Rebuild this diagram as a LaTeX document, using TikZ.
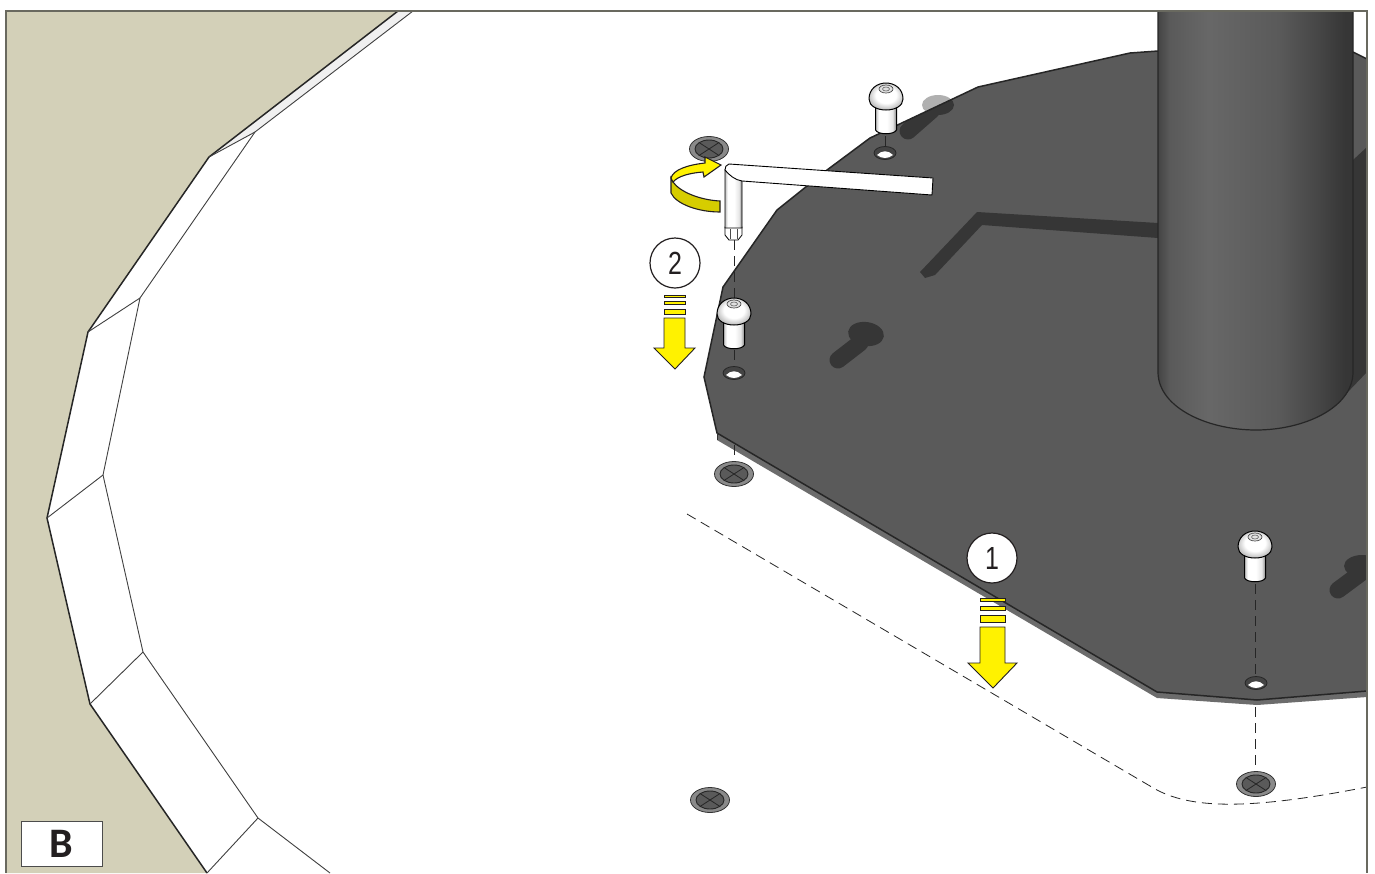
\documentclass[tikz,border=0pt]{standalone}
\usepackage{xcolor,tikz,fontspec}
\usetikzlibrary{arrows.meta,positioning,calc,shapes.geometric}
\newfontfamily\narrowfont[FakeStretch=0.78]{Liberation Sans}
\newfontfamily\heavyfont{Carlito}
\definecolor{sand}{RGB}{211,208,184}
\definecolor{plate}{RGB}{90,90,90}
\definecolor{plateside}{RGB}{108,108,108}
\definecolor{shadow}{RGB}{54,54,54}
\definecolor{halo}{RGB}{176,176,176}
\definecolor{strip}{RGB}{240,240,240}
\definecolor{frameline}{RGB}{105,105,95}
\definecolor{signal}{RGB}{255,242,0}
\definecolor{signaldark}{RGB}{214,205,0}
\definecolor{ring}{RGB}{138,138,138}
\definecolor{ink}{RGB}{35,31,32}
\pgfdeclarehorizontalshading{tube}{100bp}{color(0bp)=(shadow!60!plate); color(25bp)=(shadow!60!plate); color(28bp)=(plate); color(38bp)=(plate!92!white); color(56bp)=(plate); color(66bp)=(shadow!55!plate); color(73bp)=(shadow); color(100bp)=(shadow)}
\pgfdeclarehorizontalshading{shank}{100bp}{color(0bp)=(black!25); color(25bp)=(black!25); color(33bp)=(white); color(52bp)=(white); color(66bp)=(black!10); color(75bp)=(black!50); color(100bp)=(black!50)}
\pgfdeclareradialshading{dome}{\pgfpoint{0bp}{4bp}}{color(0bp)=(white); color(15bp)=(white); color(26bp)=(black!25); color(50bp)=(black!25)}
\tikzset{
  thin line/.style={draw=black!75,line width=.45pt},
  wall/.style={draw=black!85,line width=.75pt},
  dashline/.style={draw=black!85,line width=.4pt,dash pattern=on 5pt off 3pt},
  bar/.style={fill=signal,draw=ink,line width=.3pt},
  marker/.style={circle,draw=ink,fill=white,line width=.6pt,minimum size=25pt,inner sep=0pt,font=\narrowfont\fontsize{16}{17}\selectfont,text=ink},
  slot/.style={draw=shadow,line width=8.5pt,line cap=round},
  screw/.pic={
    \shade[shading=shank,draw=black,line width=.5pt]
      (-10.5,6) -- (-10.5,33) .. controls (-8,38) and (8,38) .. (10.5,33) -- (10.5,6) -- cycle;
    \shade[shading=dome,draw=black,line width=.5pt]
      (-17,2) .. controls (-17,-8) and (-9,-14) .. (0,-14) .. controls (9,-14) and (17,-8) .. (17,2)
      .. controls (17,9) and (9,13) .. (0,13) .. controls (-9,13) and (-17,9) .. (-17,2) -- cycle;
    \draw[black!70,fill=black!12,line width=.35pt] (0,-8) ellipse (7 and 4);
    \draw[black!60,line width=.3pt] (0,-8) ellipse (3.5 and 2);
  },
  hole/.pic={
    \draw[black!85,fill=plate!75!black,line width=.4pt] (0,0) ellipse (11 and 6.5);
    \fill[white] (-8,2) .. controls (-3,-3) and (3,-3) .. (8,2) .. controls (3,6) and (-3,6) .. (-8,2) -- cycle;
  },
  grommet/.pic={
    \draw[black!80,fill=ring,line width=.4pt] (0,0) ellipse (19.5 and 12.5);
    \draw[black!85,fill=plate,line width=.45pt] (0,0) ellipse (14 and 9);
    \draw[black!85,line width=.4pt] (-10,-6.5) -- (10,6.5) (-10,6.5) -- (10,-6.5);
  }
}
\begin{document}
\begin{tikzpicture}[x=.5pt,y=-.5pt]
  \useasboundingbox (0,0) rectangle (1375,873);
  \fill[white] (0,0) rectangle (1375,873);
  % wall and floor ring
  \fill[sand] (6,11) -- (398,11) -- (209,157) -- (88,332) -- (47,518) -- (90,704) -- (207,873) -- (6,873) -- cycle;
  \fill[strip] (398,11) -- (209,157) -- (255,132) -- (413,11) -- cycle;
  \draw[wall] (398,11) -- (209,157) -- (88,332) -- (47,518) -- (90,704) -- (207,873);
  \draw[thin line] (413,11) -- (255,132) -- (140,298) -- (103,475) -- (143,652) -- (258,818) -- (330,873);
  \draw[thin line] (209,157) -- (255,132) (88,332) -- (140,298) (47,518) -- (103,475) (90,704) -- (143,652) (207,873) -- (258,818);
  % base plate
  \fill[halo] (938,105) ellipse (16 and 10);
  \fill[plateside] (717,433) -- (717,440) -- (1157,698) -- (1257,705) -- (1367,697) -- (1367,691) -- (1257,700) -- (1157,692) -- cycle;
  \fill[plate] (1367,59) -- (1353,52) -- (1158,51) -- (1130,53) -- (978,87) -- (870,138) -- (827,170) -- (777,210) -- (723,287) -- (704,377) -- (717,433) -- (1157,692) -- (1257,700) -- (1367,691) -- cycle;
  \begin{scope}
    \clip (1367,59) -- (1353,52) -- (1158,51) -- (1130,53) -- (978,87) -- (870,138) -- (827,170) -- (777,210) -- (723,287) -- (704,377) -- (717,433) -- (1157,692) -- (1257,700) -- (1367,691) -- cycle;
    \draw[slot] (932,110) -- (908,131);
    \fill[shadow] (938,105) ellipse (16 and 10);
    \draw[slot] (860,343) -- (838,360);
    \fill[shadow,rotate around={-8:(866,334)}] (866,334) ellipse (18 and 12);
    \draw[slot] (1365,570) -- (1338,590);
    \fill[shadow] (1362,566) ellipse (18 and 11);
    \fill[shadow] (977,212) -- (1158,223) -- (1158,238) -- (982,225) -- (935,275) -- (925,278) -- (920,272) -- cycle;
    \fill[shadow] (1353,160) -- (1367,147) -- (1367,372) -- (1345,395) -- cycle;
  \end{scope}
  \draw[wall] (1367,59) -- (1353,52) (1158,51) -- (1130,53) -- (978,87) -- (870,138) -- (827,170) -- (777,210) -- (723,287) -- (704,377) -- (717,433) -- (1157,692) -- (1257,700) -- (1367,691);
  \draw[black!80,line width=.4pt] (717,433) -- (717,440);
  % column
  \shade[shading=tube] (1158,11) -- (1158,373) .. controls (1159,408) and (1208,430) .. (1256,430) .. controls (1304,430) and (1352,408) .. (1353,373) -- (1353,11) -- cycle;
  \draw[black!85,line width=.6pt] (1158,11) -- (1158,373) .. controls (1159,408) and (1208,430) .. (1256,430) .. controls (1304,430) and (1352,408) .. (1353,373) -- (1353,11);
  % guide lines
  \draw[dashline] (687,514) -- (1150,786) .. controls (1185,808) and (1240,812) .. (1367,787);
  \draw[dashline] (734,240) -- (734,300) (734,350) -- (734,367) (734,445) -- (734,465);
  \draw[dashline] (885,136) -- (885,148) (1255,584) -- (1255,677) (1255,707) -- (1255,775);
  % hardware
  \path (709,149) pic {grommet} (734,474) pic {grommet} (1256,784) pic {grommet} (710,800) pic {grommet};
  \path (885,153) pic {hole} (734,373) pic {hole} (1256,683) pic {hole};
  \path (886,97) pic {screw} (734,312) pic {screw} (1255,545) pic {screw};
  % hex key
  \draw[fill=white,draw=black,line width=.4pt] (725,227) -- (742,227) -- (742,235) -- (738,240) -- (729,240) -- (725,235) -- cycle;
  \draw[black!70,line width=.3pt] (730,229) -- (730,239) (737,229) -- (737,239);
  \shade[shading=shank,draw=black,line width=.45pt] (725,170) -- (742,181) -- (742,228) -- (725,228) -- cycle;
  \draw[fill=white,draw=black,line width=.45pt] (729,164) -- (933,178) -- (932,195) -- (742,181) .. controls (735,180) and (729,175) .. (725,170) .. controls (725,167) and (726,165) .. (729,164) -- cycle;
  % turning arrow
  \draw[fill=signaldark,draw=ink,line width=.55pt] (671,178) -- (671,193) .. controls (676,204) and (698,212) .. (720,212) -- (720,201) .. controls (700,200) and (680,192) .. (673,182) -- cycle;
  \draw[fill=signal,draw=ink,line width=.55pt] (671,178) .. controls (673,170) and (687,165) .. (705,163) -- (705,157) -- (721,165) -- (704,177) -- (703,172) .. controls (690,173) and (678,176) .. (673,182) -- cycle;
  % step markers
  \node[marker] (stepTwo) at (675,263) {2};
  \node[marker] (stepOne) at (992,558) {1};
  \draw[bar] (664,295) rectangle (685,297.5) (664,301) rectangle (685,304.5) (664,309) rectangle (685,314);
  \draw[bar,line width=.45pt] (664,318) -- (685,318) -- (685,348) -- (695,348) -- (675,369) -- (654,348) -- (664,348) -- cycle;
  \draw[bar] (980,598) rectangle (1005,601) (980,606) rectangle (1005,610) (980,615) rectangle (1005,622);
  \draw[bar,line width=.45pt] (980,627) -- (1005,627) -- (1005,663) -- (1017,663) -- (993,688) -- (968,663) -- (980,663) -- cycle;
  % frame and view letter
  \draw[frameline,line width=.55pt] (6,873) -- (6,11) -- (1367,11) -- (1367,873);
  \node[draw=black!70,fill=white,line width=.45pt,minimum width=40.5pt,minimum height=22.5pt,inner sep=0pt,text=ink,font=\heavyfont\bfseries\fontsize{21}{22}\selectfont] (viewB) at (61.5,843.5) {B};
\end{tikzpicture}
\end{document}
